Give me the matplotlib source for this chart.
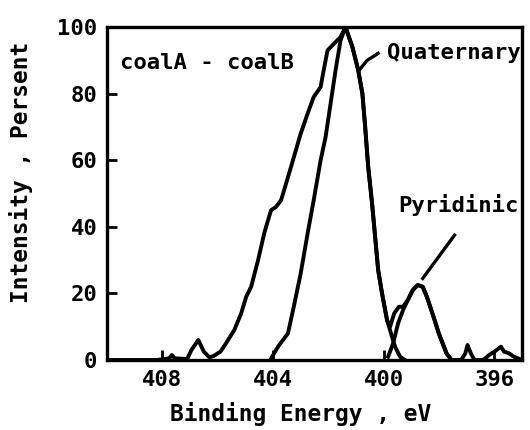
import matplotlib
matplotlib.use("Agg")
import matplotlib.pyplot as plt

# ---- data (binding energy in eV, intensity in percent) ----
diff_energy = [410.0, 408.2, 407.75, 407.66, 407.55, 407.1, 406.95, 406.7, 406.5, 406.3,
               406.15, 405.9, 405.7, 405.4, 405.15, 404.97, 404.79, 404.54, 404.32, 404.18,
               404.07, 403.89, 403.71, 403.6, 403.35, 403.0, 402.75, 402.53, 402.28, 402.17,
               402.03, 401.8, 401.56, 401.38, 401.13, 400.92, 400.77, 400.67, 400.56, 400.42,
               400.31, 400.2, 400.06, 399.88, 399.77, 399.62, 399.45, 399.3, 399.13, 398.95,
               398.77, 398.59, 398.44, 398.3, 398.16, 398.01, 397.87, 397.73, 397.55, 397.2,
               397.05, 396.97, 396.85, 396.72, 396.4, 396.19, 396.0, 395.76, 395.65, 395.47,
               395.3, 395.0]
diff_intensity = [0, 0, 0.5, 1.5, 0.5, 0.3, 3, 6, 2.5, 0.8,
                  1.2, 2.5, 5, 9, 14, 19, 22, 30, 38, 42,
                  45, 46, 48, 51, 58, 68, 74, 79, 82, 87,
                  93, 95, 97, 100, 94, 87, 80, 70, 58, 47,
                  37, 27, 20, 12, 10, 14, 16, 16, 18, 21,
                  22.5, 22, 19, 15.5, 12, 8, 5, 2, 0, 0,
                  2, 4.5, 2, 0, 0, 1.5, 2.5, 4, 2.5, 2,
                  1, 0]

quat_energy = [404.1, 403.82, 403.46, 403.25, 403.0, 402.75, 402.53, 402.28, 402.1, 401.92,
               401.74, 401.56, 401.38, 401.13, 400.92, 400.77, 400.67, 400.56, 400.42, 400.31,
               400.2, 400.06, 399.88, 399.7, 399.59, 399.41, 399.23]
quat_intensity = [0, 4, 8, 16, 26, 38, 48, 60, 67, 77,
                  87, 96, 100, 94, 87, 80, 70, 58, 47, 37,
                  27, 20, 12, 7, 4, 1, 0]

pyr_energy = [399.84, 399.66, 399.48, 399.3, 399.13, 398.95, 398.77, 398.59, 398.44, 398.3,
              398.16, 398.01, 397.87, 397.73, 397.55]
pyr_intensity = [1, 5, 11, 15, 18, 21, 22.5, 22, 19, 15.5,
                 12, 8, 5, 2, 0]

x_ticks = [408, 404, 400, 396]
y_ticks = [0, 20, 40, 60, 80, 100]

# ---- annotation placement ----
quat_pointer_x = [400.9, 400.6, 400.2]
quat_pointer_y = [86.9, 90.0, 92.1]
pyr_pointer_x = [398.59, 397.44]
pyr_pointer_y = [24.5, 37.5]

FONT = "DejaVu Sans Mono"

fig = plt.figure(figsize=(5.3, 4.3), dpi=100)
ax = fig.add_axes([0.2019, 0.1628, 0.985 - 0.2019, 0.937 - 0.1628])

lw = 2.8
ax.plot(diff_energy, diff_intensity, color="black", lw=lw, solid_joinstyle="round")
ax.plot(quat_energy, quat_intensity, color="black", lw=lw, solid_joinstyle="round")
ax.plot(pyr_energy, pyr_intensity, color="black", lw=lw, solid_joinstyle="round")
ax.plot(quat_pointer_x, quat_pointer_y, color="black", lw=2.4)
ax.plot(pyr_pointer_x, pyr_pointer_y, color="black", lw=2.4)

ax.set_xlim(410, 395)
ax.set_ylim(0, 100)
ax.set_xticks(x_ticks)
ax.set_yticks(y_ticks)

for s in ax.spines.values():
    s.set_linewidth(2.4)

ax.tick_params(direction="in", length=7, width=2, pad=7,
               labelsize=16)
for lab in ax.get_xticklabels() + ax.get_yticklabels():
    lab.set_fontfamily(FONT)
    lab.set_fontweight("bold")

ax.text(409.52, 89.2, "coalA - coalB", family=FONT, weight="bold", fontsize=16,
        ha="left", va="center")
ax.text(399.88, 92.2, "Quaternary", family=FONT, weight="bold", fontsize=16,
        ha="left", va="center")
ax.text(399.48, 46.5, "Pyridinic", family=FONT, weight="bold", fontsize=16,
        ha="left", va="center")

ax.set_xlabel("Binding Energy , eV", family=FONT, weight="bold", fontsize=16.5)
ax.set_ylabel("Intensity , Persent", family=FONT, weight="bold", fontsize=16.5)
ax.xaxis.set_label_coords(0.467, -0.125)
ax.yaxis.set_label_coords(-0.178, 0.565)

fig.savefig("out.png", dpi=100)
